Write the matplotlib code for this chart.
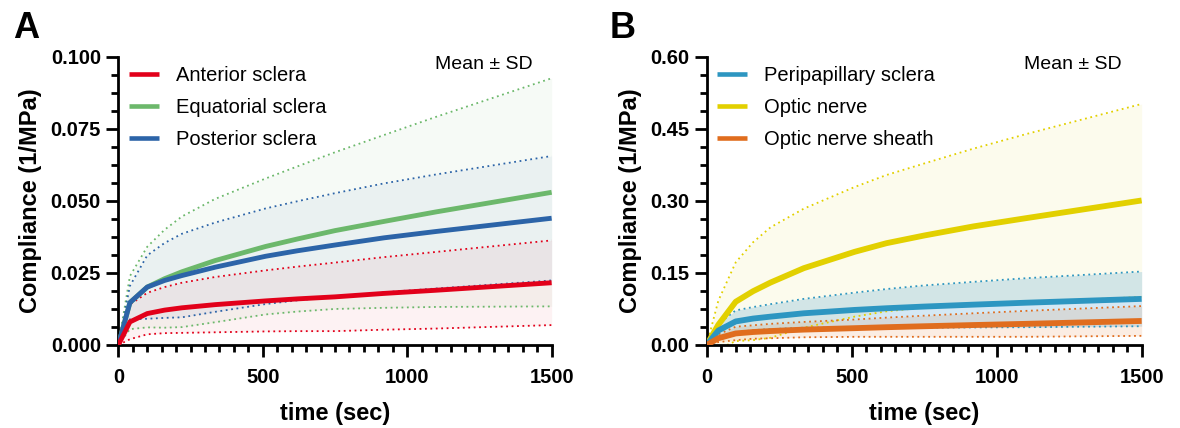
import matplotlib
matplotlib.use("Agg")
import matplotlib.pyplot as plt
from matplotlib.lines import Line2D
from matplotlib.ticker import MultipleLocator, FormatStrFormatter
import numpy as np

plt.rcParams['font.family'] = ['Liberation Sans', 'DejaVu Sans']

# time points (sec)
time_s = [0, 40, 100, 160, 220, 335, 510, 620, 750, 920, 1100, 1500]

# panel A: sclera regions, mean and SD of compliance (1/MPa)
anterior_mean = [0, 0.0080, 0.0109, 0.0121, 0.0129, 0.0140, 0.0153, 0.0160, 0.0167, 0.0179, 0.0190, 0.0216]
anterior_sd = [0, 0.0060, 0.0072, 0.0080, 0.0087, 0.0096, 0.0106, 0.0112, 0.0119, 0.0126, 0.0133, 0.0147]
equatorial_mean = [0, 0.0147, 0.0201, 0.0230, 0.0254, 0.0293, 0.0342, 0.0368, 0.0397, 0.0429, 0.0462, 0.0530]
equatorial_sd = [0, 0.0092, 0.0140, 0.0170, 0.0192, 0.0214, 0.0236, 0.0252, 0.0272, 0.0300, 0.0330, 0.0396]
posterior_mean = [0, 0.0147, 0.0201, 0.0224, 0.0241, 0.0270, 0.0308, 0.0327, 0.0347, 0.0372, 0.0394, 0.0440]
posterior_sd = [0, 0.0058, 0.0110, 0.0130, 0.0145, 0.0155, 0.0166, 0.0172, 0.0180, 0.0189, 0.0198, 0.0216]

# panel B: peripapillary sclera, optic nerve, optic nerve sheath
peri_mean = [0, 0.030, 0.049, 0.055, 0.059, 0.066, 0.073, 0.0765, 0.080, 0.084, 0.088, 0.096]
peri_sd = [0, 0.014, 0.023, 0.024, 0.026, 0.030, 0.036, 0.040, 0.044, 0.0475, 0.051, 0.057]
nerve_mean = [0, 0.042, 0.090, 0.112, 0.130, 0.160, 0.194, 0.212, 0.228, 0.247, 0.264, 0.301]
nerve_sd = [0, 0.050, 0.082, 0.102, 0.115, 0.124, 0.135, 0.142, 0.150, 0.162, 0.175, 0.201]
sheath_mean = [0, 0.014, 0.024, 0.027, 0.029, 0.032, 0.035, 0.037, 0.039, 0.0415, 0.044, 0.050]
sheath_sd = [0, 0.008, 0.014, 0.014, 0.015, 0.016, 0.018, 0.020, 0.022, 0.0245, 0.027, 0.031]

labels_a = ['Anterior sclera', 'Equatorial sclera', 'Posterior sclera']
labels_b = ['Peripapillary sclera', 'Optic nerve', 'Optic nerve sheath']
colors_a = ['#e2001a', '#6cb86b', '#2c64a8']
colors_b = ['#2d96c1', '#e2d000', '#e06d1e']
# shaded SD bands (peripapillary band pushed a bit bluer so it stays blue over the yellow band)
fills_a = colors_a
fills_b = ['#2a90cc', '#e2d000', '#e06d1e']


def draw_group(ax, means, sds, colors, fills, fill_alpha, lw, order):
    t = np.array(time_s)
    for i in order:
        m = np.array(means[i])
        s = np.array(sds[i])
        ax.fill_between(t, m - s, m + s, color=fills[i], alpha=fill_alpha[i], lw=0)
    for i in order:
        m = np.array(means[i])
        s = np.array(sds[i])
        ax.plot(t, m + s, color=colors[i], lw=1.3, ls=(0, (1, 2)))
        ax.plot(t, m - s, color=colors[i], lw=1.3, ls=(0, (1, 2)))
    for i in order:
        ax.plot(t, means[i], color=colors[i], lw=lw, solid_capstyle='butt',
                solid_joinstyle='round', zorder=5)


def style_axes(ax, ymax, ystep, fmt):
    ax.set_xlim(0, 1500)
    ax.set_ylim(0, ymax)
    ax.xaxis.set_major_locator(MultipleLocator(500))
    ax.xaxis.set_minor_locator(MultipleLocator(50))
    ax.yaxis.set_major_locator(MultipleLocator(ystep))
    ax.yaxis.set_minor_locator(MultipleLocator(ystep / 4))
    ax.yaxis.set_major_formatter(FormatStrFormatter(fmt))
    for side in ['top', 'right']:
        ax.spines[side].set_visible(False)
    for side in ['left', 'bottom']:
        ax.spines[side].set_linewidth(2)
    ax.tick_params(which='major', length=8.5, width=2, labelsize=14.5)
    ax.tick_params(which='minor', length=5, width=2)
    ax.tick_params(axis='x', which='major', pad=8)
    ax.tick_params(axis='y', which='major', pad=4)
    for lab in ax.get_xticklabels() + ax.get_yticklabels():
        lab.set_fontweight('bold')
    ax.set_xlabel('time (sec)', fontsize=17, fontweight='bold', labelpad=11)
    ax.set_ylabel('Compliance (1/MPa)', fontsize=17, fontweight='bold', labelpad=6)
    ax.text(0.955, 0.975, 'Mean \u00b1 SD', transform=ax.transAxes, ha='right', va='center', fontsize=14)


def add_legend(ax, labels, colors):
    handles = [Line2D([0], [0], color=c, lw=3.3, solid_capstyle='butt') for c in colors]
    ax.legend(handles, labels, loc='upper left', bbox_to_anchor=(0.005, 0.997), frameon=False,
              fontsize=14.5, handlelength=1.5, handletextpad=0.85, labelspacing=0.64,
              borderaxespad=0)


fig = plt.figure(figsize=(11.8, 4.28), dpi=100)
ax_a = fig.add_axes([0.1003, 0.194, 0.3672, 0.6730])
ax_b = fig.add_axes([0.5989, 0.194, 0.3686, 0.6730])

draw_group(ax_a, [anterior_mean, equatorial_mean, posterior_mean],
           [anterior_sd, equatorial_sd, posterior_sd], colors_a, fills_a,
           [0.05, 0.06, 0.06], 3.5, [1, 2, 0])
style_axes(ax_a, 0.1, 0.025, '%.3f')
add_legend(ax_a, labels_a, colors_a)

draw_group(ax_b, [peri_mean, nerve_mean, sheath_mean],
           [peri_sd, nerve_sd, sheath_sd], colors_b, fills_b,
           [0.2, 0.07, 0.12], 4.2, [1, 0, 2])
style_axes(ax_b, 0.6, 0.15, '%.2f')
add_legend(ax_b, labels_b, colors_b)

fig.text(0.011, 0.975, 'A', fontsize=26, fontweight='bold', va='top')
fig.text(0.517, 0.975, 'B', fontsize=26, fontweight='bold', va='top')

fig.savefig('out.png', dpi=100)
